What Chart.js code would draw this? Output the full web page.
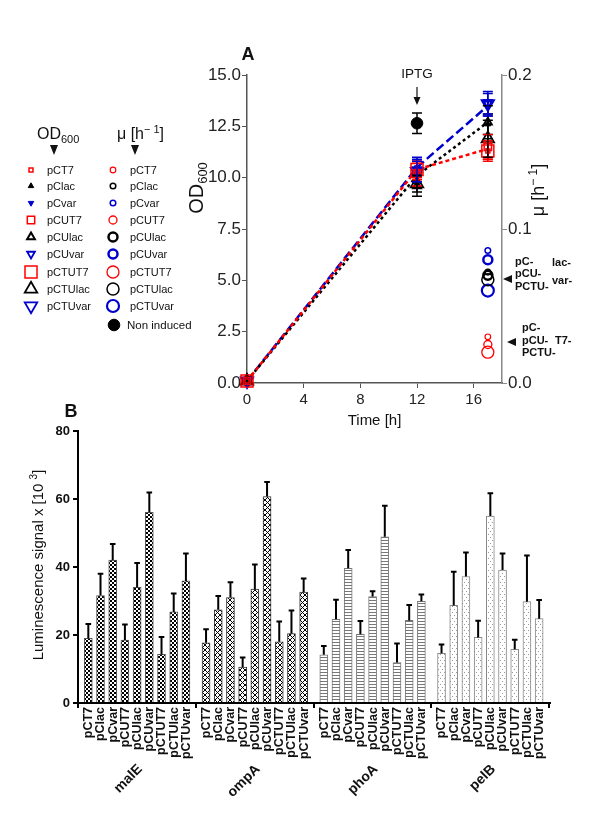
<!DOCTYPE html>
<html><head><meta charset="utf-8">
<script src="https://cdn.jsdelivr.net/npm/chart.js@4.4.0/dist/chart.umd.min.js"></script>
<style>
html,body{margin:0;padding:0;background:#fff;}
#wrap{position:relative;width:600px;height:815px;overflow:hidden;background:#fff;}
canvas{position:absolute;left:0;}
#cA{top:0;}
#cB{top:390px;}
</style></head><body>
<div id="wrap">
<canvas id="cA" width="600" height="440"></canvas>
<canvas id="cB" width="600" height="425"></canvas>
</div>
<script>
// ================= DATA: panel A =================
const constructs = ['pCT7','pClac','pCvar','pCUT7','pCUlac','pCUvar','pCTUT7','pCTUlac','pCTUvar'];
const timeA = [0, 12, 17];
const xTicksA = [0, 4, 8, 12, 16];
const muTicks = [0, 0.1, 0.2];
// OD600 per construct at each time point
const odT0  = [0.1, 0.1, 0.1, 0.1, 0.1, 0.1, 0.1, 0.1, 0.1];
const odT12 = [10.3, 9.8, 10.5, 10.2, 9.6, 10.4, 10.4, 9.7, 10.3];
const odT17 = [11.3, 12.6, 13.4, 11.5, 12.7, 13.6, 11.3, 11.9, 13.6];
const errT12 = [0.4, 0.3, 0.4, 0.6, 0.5, 0.6, 0.4, 0.4, 0.5];
const errT17 = [0.4, 0.5, 0.4, 0.6, 0.8, 0.6, 0.5, 0.9, 0.5];
// mean curves
const meanT7  = [0.1, 10.4, 11.4];
const meanLac = [0.1, 10.1, 12.7];
const meanVar = [0.1, 10.5, 13.5];
// growth rate mu [1/h] at t = 17 h
const muTime = 17;
const muValues = [0.030, 0.072, 0.086, 0.025, 0.070, 0.080, 0.020, 0.067, 0.060];
// non induced culture
const niTime = 12, niOD = 12.65, niErr = 0.5;

// ================= DATA: panel B =================
const signalGroups = ['malE','ompA','phoA','pelB'];
const malE   = [19.0, 31.6, 42.0, 18.5, 34.0, 56.1, 14.3, 26.8, 35.9];
const malESD = [4.2, 6.4, 4.8, 4.6, 7.2, 5.8, 5.1, 5.4, 8.1];
const ompA   = [17.7, 27.4, 31.0, 10.6, 33.5, 60.7, 18.0, 20.4, 32.6];
const ompASD = [4.0, 4.1, 4.5, 2.8, 7.2, 4.3, 6.0, 6.8, 4.0];
const phoA   = [14.2, 24.6, 39.6, 20.2, 31.3, 48.9, 11.9, 24.3, 29.9];
const phoASD = [2.6, 5.8, 5.4, 3.9, 1.6, 9.1, 5.6, 4.5, 2.0];
const pelB   = [14.6, 28.7, 37.2, 19.3, 55.0, 39.1, 15.8, 29.8, 24.8];
const pelBSD = [2.6, 9.9, 7.1, 4.9, 6.7, 4.9, 2.8, 13.6, 5.5];
const yTicksB = [0, 20, 40, 60, 80];

// ================= STYLES =================
const FONT = "'Liberation Sans', Arial, Helvetica, sans-serif";
Chart.defaults.font.family = FONT;
Chart.defaults.color = '#222';
const RED = '#ff0000', BLUE = '#0000cc', BLACK = '#000000';
const odStyles = {
  pCT7:   {shape:'rect', color:RED,   r:2.8, lw:1.5, filled:false},
  pClac:  {shape:'tri',  color:BLACK, r:3.2, lw:1,   filled:true},
  pCvar:  {shape:'tridown', color:BLUE, r:3.2, lw:1, filled:true},
  pCUT7:  {shape:'rect', color:RED,   r:5.2, lw:1.5, filled:false},
  pCUlac: {shape:'tri',  color:BLACK, r:4.5, lw:2,   filled:false},
  pCUvar: {shape:'tridown', color:BLUE, r:4.5, lw:1.8, filled:false},
  pCTUT7: {shape:'rect', color:RED,   r:8.5, lw:1.5, filled:false},
  pCTUlac:{shape:'tri',  color:BLACK, r:7.2, lw:1.8, filled:false},
  pCTUvar:{shape:'tridown', color:BLUE, r:7.2, lw:1.8, filled:false}
};
const muStyles = {
  pCT7:{color:RED,r:2.8,lw:1.2}, pClac:{color:BLACK,r:2.8,lw:1.5}, pCvar:{color:BLUE,r:2.8,lw:1.5},
  pCUT7:{color:RED,r:4,lw:1.3}, pCUlac:{color:BLACK,r:4.5,lw:2.5}, pCUvar:{color:BLUE,r:4.5,lw:2.5},
  pCTUT7:{color:RED,r:6,lw:1.3}, pCTUlac:{color:BLACK,r:6,lw:1.5}, pCTUvar:{color:BLUE,r:6,lw:2.2}
};

function drawShape(ctx, shape, x, y, r, color, lw, filled){
  ctx.save(); ctx.beginPath();
  if(shape==='rect'){ const s=r*Math.SQRT1_2; ctx.rect(x-s,y-s,2*s,2*s); }
  else if(shape==='tri'||shape==='tridown'){
    const d = shape==='tri'?1:-1;
    for(let k=0;k<3;k++){ const a=k*2*Math.PI/3; const px=x+Math.sin(a)*r, py=y-d*Math.cos(a)*r; if(k) ctx.lineTo(px,py); else ctx.moveTo(px,py); }
    ctx.closePath();
  } else { ctx.arc(x,y,r,0,2*Math.PI); }
  if(filled){ ctx.fillStyle=color; ctx.fill(); }
  ctx.lineWidth=lw; ctx.strokeStyle=color; ctx.stroke(); ctx.restore();
}
function richText(ctx, parts, x, y, align){
  // parts: [{t,size,weight,dy}] ; baseline alphabetic at y
  let total=0;
  parts.forEach(p=>{ ctx.font=(p.weight||'normal')+' '+p.size+'px '+FONT; p.w=ctx.measureText(p.t).width; total+=p.w; });
  let cx = align==='center' ? x-total/2 : x;
  ctx.textAlign='left'; ctx.textBaseline='alphabetic';
  parts.forEach(p=>{ ctx.font=(p.weight||'normal')+' '+p.size+'px '+FONT; ctx.fillText(p.t, cx, y+(p.dy||0)); cx+=p.w; });
}
function downArrow(ctx,x,top,bottom,hw){ ctx.beginPath(); ctx.moveTo(x-hw,top); ctx.lineTo(x+hw,top); ctx.lineTo(x,bottom); ctx.closePath(); ctx.fill(); }
function leftArrow(ctx,tipX,baseX,y,hh){ ctx.beginPath(); ctx.moveTo(tipX,y); ctx.lineTo(baseX,y-hh); ctx.lineTo(baseX,y+hh); ctx.closePath(); ctx.fill(); }

// ================= PANEL A =================
const datasetsA = [];
datasetsA.push({ data:[{x:niTime,y:niOD}], errors:[niErr], pointStyle:'circle', pointRadius:5.8, pointHoverRadius:5.8,
  pointBackgroundColor:BLACK, pointBorderColor:BLACK, pointBorderWidth:1, errColor:BLACK, yAxisID:'y', clip:false });
constructs.forEach((c,k)=>{
  const st=odStyles[c]; const vals=[odT0[k],odT12[k],odT17[k]];
  datasetsA.push({ label:c, data: timeA.map((t,ti)=>({x:t,y:vals[ti]})), errors:[0,errT12[k],errT17[k]], errColor:st.color,
    pointStyle: st.shape==='rect'?'rect':'triangle', pointRotation: st.shape==='tridown'?180:0,
    pointRadius:st.r, pointHoverRadius:st.r, pointBorderWidth:st.lw, pointBorderColor:st.color,
    pointBackgroundColor: st.filled?st.color:'rgba(0,0,0,0)', showLine:false, yAxisID:'y', clip:false });
});
constructs.forEach((c,k)=>{
  const st=muStyles[c];
  datasetsA.push({ label:'mu '+c, data:[{x:muTime,y:muValues[k]}], pointStyle:'circle', pointRadius:st.r, pointHoverRadius:st.r,
    pointBorderWidth:st.lw, pointBorderColor:st.color, pointBackgroundColor:'rgba(0,0,0,0)', yAxisID:'y1', clip:false });
});
[[meanT7,RED,[4,3]],[meanLac,BLACK,[3,3]],[meanVar,BLUE,[9,4]]].forEach(([arr,col,dash])=>{
  datasetsA.push({ data: timeA.map((t,i)=>({x:t,y:arr[i]})), showLine:true, pointRadius:0, borderColor:col, borderWidth:2.5,
    borderDash:dash, fill:false, yAxisID:'y', clip:false });
});

const errorBarsA = { id:'errA', afterDatasetsDraw(chart){
  const ctx=chart.ctx;
  chart.data.datasets.forEach((ds,i)=>{
    if(!ds.errors) return;
    const meta=chart.getDatasetMeta(i); const sc=chart.scales[ds.yAxisID||'y'];
    ds.errors.forEach((e,j)=>{
      if(!e) return;
      const el=meta.data[j]; const v=ds.data[j].y;
      const y1=sc.getPixelForValue(v+e), y2=sc.getPixelForValue(v-e);
      ctx.save(); ctx.strokeStyle=ds.errColor; ctx.lineWidth=1.5; ctx.beginPath();
      ctx.moveTo(el.x,y1); ctx.lineTo(el.x,y2);
      ctx.moveTo(el.x-5,y1); ctx.lineTo(el.x+5,y1);
      ctx.moveTo(el.x-5,y2); ctx.lineTo(el.x+5,y2);
      ctx.stroke(); ctx.restore();
    });
  });
}};

const decorA = { id:'decorA', afterDraw(chart){
  const ctx=chart.ctx; const ca=chart.chartArea;
  ctx.save(); ctx.fillStyle='#111';
  // panel letter
  ctx.font='bold 18px '+FONT; ctx.textAlign='center'; ctx.textBaseline='middle'; ctx.fillText('A',248,55);
  // axis titles
  ctx.save(); ctx.translate(196,188); ctx.rotate(-Math.PI/2);
  richText(ctx,[{t:'OD',size:20},{t:'600',size:13,dy:4}],0,7,'center'); ctx.restore();
  ctx.save(); ctx.translate(538,190); ctx.rotate(-Math.PI/2);
  richText(ctx,[{t:'\u03bc [h',size:18},{t:'\u2212 1',size:12,dy:-7},{t:']',size:18}],0,6,'center'); ctx.restore();
  ctx.font='15px '+FONT; ctx.textAlign='center'; ctx.textBaseline='middle';
  ctx.fillText('Time [h]',(ca.left+ca.right)/2,421);
  // IPTG
  ctx.font='13.5px '+FONT; ctx.fillText('IPTG',417,74);
  ctx.strokeStyle='#111'; ctx.lineWidth=1.2; ctx.beginPath(); ctx.moveTo(417,87); ctx.lineTo(417,98); ctx.stroke();
  downArrow(ctx,417,97,105,3.5);
  // right annotations
  ctx.font='bold 11px '+FONT; ctx.textAlign='left'; ctx.textBaseline='middle';
  [['pC-',515,262],['pCU-',515,274],['PCTU-',515,287],['lac-',552,263],['var-',552,281],
   ['pC-',522,328],['pCU-',522,341],['PCTU-',522,353],['T7-',555,341]].forEach(([t,x,y])=>ctx.fillText(t,x,y));
  leftArrow(ctx,503,512,279,4); leftArrow(ctx,507,516,342,4);
  // legend headers
  richText(ctx,[{t:'OD',size:16},{t:'600',size:11,dy:4}],37,139,'left');
  richText(ctx,[{t:'\u03bc [h',size:16},{t:'\u2212 1',size:11,dy:-6},{t:']',size:16}],117,139,'left');
  downArrow(ctx,54,145,155,4); downArrow(ctx,135,145,155,4);
  // legend rows
  const rowsY=[170,186,203,220,237,254,272,289,306];
  ctx.font='11px '+FONT; ctx.textAlign='left'; ctx.textBaseline='middle';
  constructs.forEach((c,k)=>{
    const st=odStyles[c]; drawShape(ctx,st.shape,31,rowsY[k],st.r,st.color,st.lw,st.filled);
    ctx.fillStyle='#111'; ctx.fillText(c,47,rowsY[k]+1);
    const ms=muStyles[c]; drawShape(ctx,'circle',113,rowsY[k],ms.r,ms.color,ms.lw,false);
    ctx.fillStyle='#111'; ctx.fillText(c,130,rowsY[k]+1);
  });
  drawShape(ctx,'circle',114,325,5.8,BLACK,1,true);
  ctx.fillStyle='#111'; ctx.font='11.5px '+FONT; ctx.fillText('Non induced',127,326);
  ctx.restore();
}};

new Chart(document.getElementById('cA'), {
  type:'scatter',
  data:{ datasets: datasetsA },
  options:{
    responsive:false, animation:false, devicePixelRatio:1,
    layout:{padding:{top:75,left:0,right:0,bottom:0}},
    plugins:{legend:{display:false}, tooltip:{enabled:false}},
    scales:{
      x:{ type:'linear', position:'bottom', min:0, max:18,
          afterBuildTicks:s=>{ s.ticks = xTicksA.map(v=>({value:v})); },
          afterFit:s=>{ s.height=57; },
          ticks:{ font:{size:15}, padding:3, color:'#222', callback:v=>String(v) },
          grid:{ drawOnChartArea:false, drawTicks:true, tickLength:5, color:'#555', lineWidth:1 },
          border:{ display:true, color:'#555', width:1.5 } },
      y:{ type:'linear', position:'left', min:0, max:15,
          ticks:{ stepSize:2.5, font:{size:17}, padding:1, color:'#222', callback:v=>Number(v).toFixed(1) },
          afterFit:s=>{ s.width=247; },
          grid:{ drawOnChartArea:false, tickLength:5, color:'#555', lineWidth:1 },
          border:{ display:true, color:'#555', width:1.5 } },
      y1:{ type:'linear', position:'right', min:0, max:0.2,
          afterBuildTicks:s=>{ s.ticks = muTicks.map(v=>({value:v})); },
          ticks:{ font:{size:17}, padding:1, color:'#222', callback:v=>Number(v).toFixed(1) },
          afterFit:s=>{ s.width=98; },
          grid:{ drawOnChartArea:false, tickLength:5, color:'#888', lineWidth:1 },
          border:{ display:true, color:'#888', width:1.5 } }
    }
  },
  plugins:[errorBarsA, decorA]
});

// ================= PANEL B =================
const GROUP_STEP = 9.65;
const cB = document.getElementById('cB');
const ctxB = cB.getContext('2d');
function makePattern(w,h,fn){
  const c=document.createElement('canvas'); c.width=w; c.height=h;
  const g=c.getContext('2d'); g.fillStyle='#fff'; g.fillRect(0,0,w,h); fn(g);
  return ctxB.createPattern(c,'repeat');
}
const patChecker = makePattern(4,4,g=>{ g.fillStyle='#000'; g.fillRect(0,0,2,2); g.fillRect(2,2,2,2); });
const patCross = makePattern(5,5,g=>{ g.fillStyle='#000'; for(let i=0;i<5;i++){ g.fillRect(i,i,1,1); g.fillRect(4-i,i,1,1);} });
const patStripes = makePattern(4,3,g=>{ g.fillStyle='#777'; g.fillRect(0,0,4,1); });
const patDots = makePattern(4,6,g=>{ g.fillStyle='#999'; g.fillRect(0,0,1,1); g.fillRect(2,3,1,1); });
const groupData = [malE, ompA, phoA, pelB];
const groupSD = [malESD, ompASD, phoASD, pelBSD];
const groupPatterns = [patChecker, patCross, patStripes, patDots];
const groupBorders = ['#555','#333','#777','#888'];

const datasetsB = signalGroups.map((g,gi)=>({
  label:g,
  data: constructs.map((c,i)=>({x: gi*GROUP_STEP+i, y: groupData[gi][i]})),
  sd: groupSD[gi],
  backgroundColor: groupPatterns[gi], borderColor: groupBorders[gi], borderWidth:1,
  barThickness:8, grouped:false
}));

const decorB = { id:'decorB', afterDatasetsDraw(chart){
  const ctx=chart.ctx; const ys=chart.scales.y;
  ctx.save(); ctx.strokeStyle='#000'; ctx.lineWidth=2;
  chart.data.datasets.forEach((ds,i)=>{
    const meta=chart.getDatasetMeta(i);
    ds.data.forEach((d,j)=>{
      const el=meta.data[j]; const yt=ys.getPixelForValue(d.y+ds.sd[j]);
      ctx.beginPath(); ctx.moveTo(el.x,el.y); ctx.lineTo(el.x,yt);
      ctx.moveTo(el.x-2.8,yt); ctx.lineTo(el.x+2.8,yt); ctx.stroke();
    });
  });
  ctx.restore();
}, afterDraw(chart){
  const ctx=chart.ctx; const xs=chart.scales.x; const ca=chart.chartArea;
  ctx.save(); ctx.fillStyle='#111';
  ctx.font='bold 18px '+FONT; ctx.textAlign='center'; ctx.textBaseline='middle'; ctx.fillText('B',71,22);
  // y title
  ctx.save(); ctx.translate(38,175); ctx.rotate(-Math.PI/2);
  richText(ctx,[{t:'Luminescence signal x [10 ',size:15},{t:'3',size:10,dy:-6},{t:']',size:15}],0,5,'center');
  ctx.restore();
  // bar labels
  ctx.font='bold 12.5px '+FONT; ctx.textAlign='right'; ctx.textBaseline='middle';
  signalGroups.forEach((g,gi)=>constructs.forEach((c,i)=>{
    const px=xs.getPixelForValue(gi*GROUP_STEP+i);
    ctx.save(); ctx.translate(px+0.5, ca.bottom+4); ctx.rotate(-Math.PI/2); ctx.fillText(c,0,0); ctx.restore();
  }));
  // group labels
  ctx.font='bold 14px '+FONT;
  signalGroups.forEach((g,gi)=>{
    const px=xs.getPixelForValue(gi*GROUP_STEP+4)+3;
    ctx.save(); ctx.translate(px, ca.bottom+64); ctx.rotate(-Math.PI/4); ctx.textAlign='right'; ctx.textBaseline='middle'; ctx.fillText(g,0,0); ctx.restore();
  });
  ctx.restore();
}};

new Chart(cB, {
  type:'bar',
  data:{ datasets: datasetsB },
  options:{
    responsive:false, animation:false, devicePixelRatio:1,
    layout:{padding:{top:41,left:0,right:50,bottom:0}},
    plugins:{legend:{display:false}, tooltip:{enabled:false}},
    scales:{
      x:{ type:'linear', min:-0.845, max:37.84, offset:false,
          afterBuildTicks:s=>{ s.ticks = signalGroups.map((g,gi)=>({value: gi*GROUP_STEP+4})); },
          afterFit:s=>{ s.height=112; },
          ticks:{ callback:()=>'', padding:0 },
          grid:{ drawOnChartArea:false, tickLength:5, color:'#000', lineWidth:2 },
          border:{ display:true, color:'#000', width:2 } },
      y:{ min:0, max:80,
          afterBuildTicks:s=>{ s.ticks = yTicksB.map(v=>({value:v})); },
          afterFit:s=>{ s.width=78; },
          ticks:{ font:{size:13, weight:'bold'}, padding:3, color:'#111' },
          grid:{ drawOnChartArea:false, tickLength:5, color:'#000', lineWidth:2 },
          border:{ display:true, color:'#000', width:2 } }
    }
  },
  plugins:[decorB]
});
</script>
</body></html>
